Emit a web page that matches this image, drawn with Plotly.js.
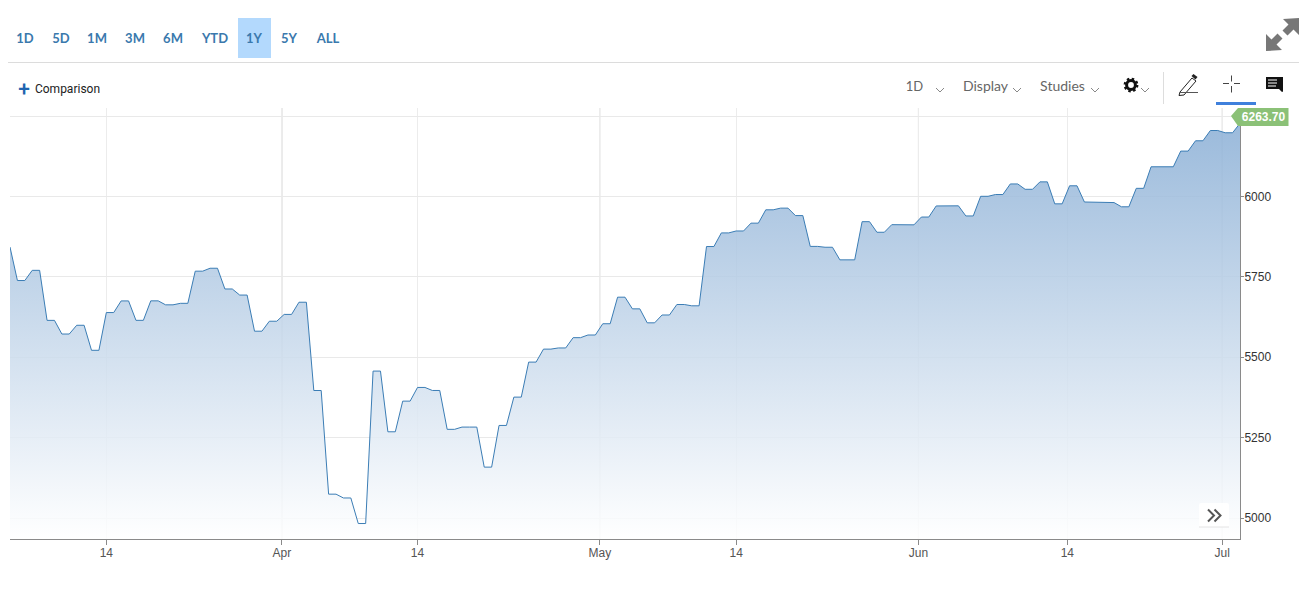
<!DOCTYPE html>
<html><head><meta charset="utf-8">
<script src="https://cdn.plot.ly/plotly-3.0.1.min.js"></script>
<style>
html,body{margin:0;padding:0;background:#fff;width:1316px;height:592px;overflow:hidden}
#chart{position:absolute;left:0;top:0;width:1316px;height:592px}
#ui{position:absolute;left:0;top:0;width:1316px;height:592px;pointer-events:none}
.t{position:absolute;white-space:nowrap;transform:translate(-50%,-50%);line-height:1}
.r{font-family:Lato,sans-serif;font-weight:700;font-size:13px;color:#3a79ad}
.g{font-family:Lato,sans-serif;font-weight:400;font-size:14px;color:#666}
</style></head><body>
<div id="chart"></div>
<div id="ui">
<div style="position:absolute;left:238px;top:18px;width:33px;height:40px;background:#b3d9fd"></div>
<div style="position:absolute;left:8px;top:62px;width:1291px;height:1px;background:#dcdcdc"></div>
<div id="ranges"></div>
<div class="t" style="left:24px;top:88.500px;font:500 21px Roboto,sans-serif;color:#1f64b0">+</div>
<div class="t" style="left:67.500px;top:89px;font:400 12px Roboto,sans-serif;color:#222">Comparison</div>
<div class="t g" style="left:914.500px;top:86px;font-size:13px">1D</div>
<div class="t g" style="left:985.5px;top:86px">Display</div>
<div class="t g" style="left:1062.5px;top:86px">Studies</div>
<div style="position:absolute;left:1163px;top:72px;width:1px;height:32px;background:#ddd"></div>
<div style="position:absolute;left:1216px;top:102px;width:40px;height:3px;background:#3f80dc"></div>
<svg width="1316" height="592" style="position:absolute;left:0;top:0">
<g fill="none" stroke="#888" stroke-width="1">
<path d="M936 88l4 4 4-4M1013 88l4 4 4-4M1091 88l4 4 4-4M1141 88l4 4 4-4"/>
</g>
<g fill="#777">
<path d="M1299 18v17l-5.5-5.5-6 6-5-5 6-6-5.500-5.500z"/>
<path d="M1266 51v-17l5.500 5.500 6-6 5 5-6 6 5.500 5.500z"/>
</g>
<circle cx="1131" cy="85" r="4.400" fill="none" stroke="#111" stroke-width="3"/>
<circle cx="1131" cy="85" r="6.200" fill="none" stroke="#111" stroke-width="2.400" stroke-dasharray="2.400 2.470"/>
<path d="M1180 92l12-14 4 3-12 14-5 .5z" fill="#fff" stroke="#222" stroke-width="1"/>
<path d="M1191.500 76l2-2 4 3-2 2.500z" fill="#222"/>
<path d="M1180 92.500h18" stroke="#555" stroke-width="1"/>
<path d="M1231.500 75.500v6M1231.500 86v6.500M1223 83.500h6M1234 83.500h6" stroke="#444" stroke-width="1"/>
<path d="M1266 77h17v14.500l-1 .500-3-3h-13z" fill="#111"/>
<path d="M1268 80h9M1268 83h9M1268 86h8" stroke="#fff" stroke-width="1"/>
<path d="M1231 116l7-8h50.500v18h-50.500z" fill="#8bc177"/>
<rect x="1199" y="503" width="30" height="24" rx="2" fill="#fff" fill-opacity=".9"/>
<path d="M1199 527h30" stroke="#e4e4e4" stroke-width="1"/>
<path d="M1208 509.500l6 6-6 6M1214.500 509.500l6 6-6 6" fill="none" stroke="#555" stroke-width="2"/>
</svg>
<div class="t" style="left:1263.500px;top:117px;font:700 12px 'Liberation Sans',Arial,sans-serif;color:#fff">6263.70</div>
</div>
<script>
const rangeLabels = ['1D','5D','1M','3M','6M','YTD','1Y','5Y','ALL'];
const rangeCenters = [25,61,97,135,173,215,254,289,328];

const sessions = ['Mar 5','Mar 6','Mar 7','Mar 10','Mar 11','Mar 12','Mar 13','Mar 14','Mar 17','Mar 18','Mar 19','Mar 20','Mar 21','Mar 24','Mar 25','Mar 26','Mar 27','Mar 28','Mar 31','Apr 1','Apr 2','Apr 3','Apr 4','Apr 7','Apr 8','Apr 9','Apr 10','Apr 11','Apr 14','Apr 15','Apr 16','Apr 17','Apr 21','Apr 22','Apr 23','Apr 24','Apr 25','Apr 28','Apr 29','Apr 30','May 1','May 2','May 5','May 6','May 7','May 8','May 9','May 12','May 13','May 14','May 15','May 16','May 19','May 20','May 21','May 22','May 23','May 27','May 28','May 29','May 30','Jun 2','Jun 3','Jun 4','Jun 5','Jun 6','Jun 9','Jun 10','Jun 11','Jun 12','Jun 13','Jun 16','Jun 17','Jun 18','Jun 20','Jun 23','Jun 24','Jun 25','Jun 26','Jun 27','Jun 30','Jul 1','Jul 2'];
const closes = [5842.6,5738.5,5770.2,5614.6,5572.1,5599.3,5521.5,5638.9,5675.1,5614.7,5675.3,5662.9,5667.6,5767.6,5776.7,5712.2,5693.3,5580.9,5611.9,5633.1,5671.0,5396.5,5074.1,5062.3,4982.8,5456.9,5268.1,5363.4,5406.0,5396.6,5275.7,5282.7,5158.2,5287.8,5375.9,5484.8,5525.2,5528.8,5560.8,5569.1,5604.1,5686.7,5650.4,5606.9,5631.3,5663.9,5659.9,5844.2,5886.6,5892.6,5916.9,5958.4,5963.6,5940.5,5844.6,5842.0,5802.8,5921.5,5888.6,5912.2,5911.7,5935.9,5970.4,5970.8,5939.3,6000.4,6005.9,6038.8,6022.2,6045.3,5977.0,6033.1,5982.7,5980.9,5967.8,6025.2,6092.2,6092.2,6141.0,6173.1,6205.0,6198.0,6227.4];
const heldOverHoliday = ['Apr 17','May 23','Jun 18'];

const tickPositions = [13,36.7,55,79.6,98,122.6,142.7,163.6];
const tickLabels = ['14','Apr','14','May','14','Jun','14','Jul'];
const monthTicks = [36.7,79.6,122.6,163.6];
const priceTicks = [5000,5250,5500,5750,6000,6250];
const priceLabels = ['5000','5250','5500','5750','6000',''];

const ranges = document.getElementById('ranges');
rangeLabels.forEach((l,i)=>{
  const d=document.createElement('div');d.className='t r';d.textContent=l;
  d.style.left=rangeCenters[i]+'px';d.style.top='37.5px';ranges.appendChild(d);
});

const xs=[],ys=[];let step=0;
sessions.forEach((s,i)=>{
  let n=2;
  if(i===0||i===sessions.length-1)n=1;
  if(heldOverHoliday.includes(s))n=3;
  for(let k=0;k<n;k++){xs.push(step);ys.push(closes[i]);step++;}
});

const trace={x:xs,y:ys,type:'scatter',mode:'lines',
  line:{color:'#3b7db5',width:1},
  fill:'tozeroy',
  fillgradient:{type:'vertical',start:4935,stop:6230,
    colorscale:[[0,'rgba(255,255,255,0.85)'],[1,'rgba(137,174,213,0.85)']]},
  hoverinfo:'x+y'};

const layout={
  width:1316,height:592,
  margin:{l:10,r:76,t:108,b:53,pad:0},
  paper_bgcolor:'#fff',plot_bgcolor:'#fff',showlegend:false,
  font:{family:"'Liberation Sans',Arial,sans-serif",size:12,color:'#333'},
  xaxis:{range:[0,xs[xs.length-1]],tickmode:'array',tickvals:tickPositions,ticktext:tickLabels,
    showgrid:true,gridcolor:'#ececec',gridwidth:1,zeroline:false,
    showline:true,linecolor:'#8a8a8a',linewidth:1,
    ticks:'outside',ticklen:5,tickcolor:'#8a8a8a',ticklabelstandoff:-2,tickfont:{color:'#555',size:12}},
  yaxis:{range:[4934.7,6275],side:'right',tickmode:'array',tickvals:priceTicks,ticktext:priceLabels,
    showgrid:true,gridcolor:'#e9e9e9',gridwidth:1,zeroline:false,
    showline:true,linecolor:'#8a8a8a',linewidth:1,
    ticks:'outside',ticklen:3,tickcolor:'#8a8a8a',ticklabelstandoff:-2,tickfont:{color:'#333',size:12}},
  shapes:monthTicks.map(v=>({type:'line',layer:'below',xref:'x',yref:'paper',x0:v,x1:v,y0:0,y1:1,
    line:{color:'#cfcfcf',width:1}}))
};
Plotly.newPlot('chart',[trace],layout,{displayModeBar:false,responsive:false});
</script>
</body></html>
